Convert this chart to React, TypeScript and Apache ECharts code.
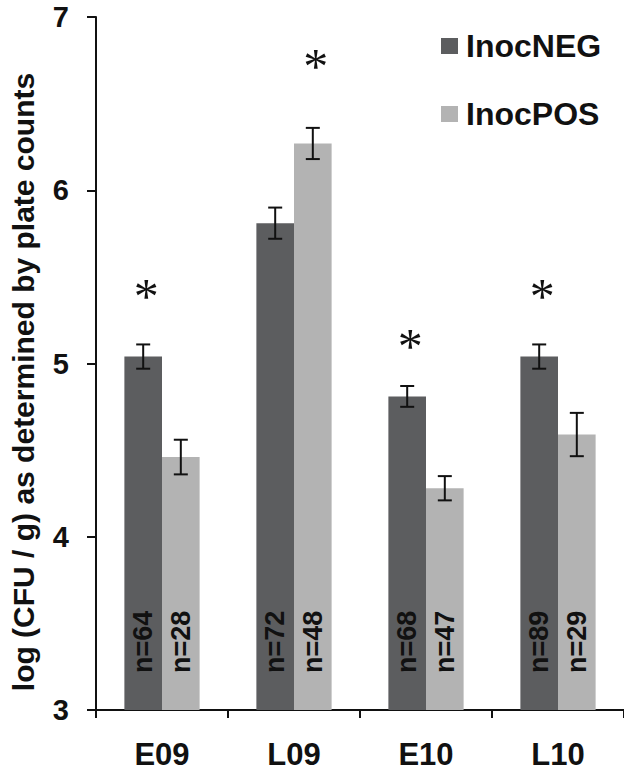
import React, { useEffect, useRef } from "react";
import * as echarts from "echarts";

const categories = ["E09", "L09", "E10", "L10"];
const seriesNames = ["InocNEG", "InocPOS"];
const negValues = [5.04, 5.81, 4.81, 5.04];
const posValues = [4.46, 6.27, 4.28, 4.59];
const negErr = [0.07, 0.09, 0.06, 0.07];
const posErr = [0.1, 0.09, 0.07, 0.125];
const negN = [64, 72, 68, 89];
const posN = [28, 48, 47, 29];
// significance markers: which series (0 = NEG, 1 = POS) and the level where the asterisk sits
const sigSeriesIndex = [0, 1, 0, 0];
const sigLevel = [5.39, 6.72, 5.1, 5.39];
const yTicks = [3, 4, 5, 6, 7];

const COLORS = ["#5c5d5f", "#b3b3b3"];
const FONT = "Liberation Sans, Arial, sans-serif";

export default function App() {
  const ref = useRef<HTMLDivElement>(null);
  useEffect(() => {
    document.body.style.margin = "0";
    if (!ref.current) return;
    const chart = echarts.init(ref.current, undefined, { renderer: "svg" });
    const GAP = 0.43;

    const errData: any[] = [];
    negValues.forEach((v, i) => errData.push([i, v, negErr[i], 0]));
    posValues.forEach((v, i) => errData.push([i, v, posErr[i], 1]));

    const sigData = sigLevel.map((v, i) => [i, v, sigSeriesIndex[i]]);

    const barOffset = (api: any, s: number) => {
      const catW = api.size([1, 0])[0];
      const bw = (catW * (1 - GAP)) / 2;
      return s === 0 ? -bw / 2 : bw / 2;
    };

    const barLabel = (counts: number[]) => ({
      show: true,
      position: "insideBottom",
      rotate: 90,
      align: "left",
      verticalAlign: "middle",
      distance: 37,
      formatter: (p: any) => "n=" + counts[p.dataIndex],
      fontSize: 27,
      fontWeight: "bold",
      color: "#111",
      fontFamily: FONT,
    });

    const option: any = {
      animation: false,
      backgroundColor: "#ffffff",
      textStyle: { fontFamily: FONT },
      grid: { left: 96, right: 0, top: 17, bottom: 64, containLabel: false },
      legend: {
        data: seriesNames,
        orient: "vertical",
        left: 436,
        top: 25,
        itemWidth: 17,
        itemHeight: 16,
        itemGap: 36,
        icon: "rect",
        textStyle: { fontFamily: FONT, fontSize: 32, fontWeight: "bold", color: "#111", lineHeight: 31, padding: [0, 0, 0, 3] },
      },
      xAxis: {
        type: "category",
        data: categories,
        axisLine: { lineStyle: { color: "#111", width: 2 } },
        axisTick: { show: true, length: 8, lineStyle: { color: "#111", width: 2 } },
        axisLabel: { margin: 29, fontSize: 31, fontWeight: "bold", color: "#111", fontFamily: FONT },
      },
      yAxis: {
        type: "value",
        min: yTicks[0],
        max: yTicks[yTicks.length - 1],
        interval: 1,
        splitLine: { show: false },
        axisLine: { show: true, lineStyle: { color: "#111", width: 2 } },
        axisTick: { show: true, length: 9, lineStyle: { color: "#111", width: 2 } },
        axisLabel: { margin: 27, fontSize: 29, fontWeight: "bold", color: "#111", fontFamily: FONT },
      },
      graphic: [
        {
          type: "text",
          x: 23,
          y: 382,
          rotation: Math.PI / 2,
          style: {
            text: "log (CFU / g) as determined by plate counts",
            fontSize: 30,
            fontWeight: "bold",
            fontFamily: FONT,
            fill: "#111",
            textAlign: "center",
            textVerticalAlign: "middle",
          },
        },
      ],
      series: [
        {
          name: seriesNames[0],
          type: "bar",
          data: negValues,
          barGap: "0%",
          barCategoryGap: GAP * 100 + "%",
          itemStyle: { color: COLORS[0] },
          label: barLabel(negN),
        },
        {
          name: seriesNames[1],
          type: "bar",
          data: posValues,
          barGap: "0%",
          barCategoryGap: GAP * 100 + "%",
          itemStyle: { color: COLORS[1] },
          label: barLabel(posN),
        },
        {
          type: "custom",
          name: "err",
          data: errData,
          z: 10,
          renderItem: (params: any, api: any) => {
            const i = api.value(0);
            const v = api.value(1);
            const e = api.value(2);
            const s = api.value(3);
            const off = barOffset(api, s);
            const top = api.coord([i, v + e]);
            const bot = api.coord([i, v - e]);
            const x = top[0] + off;
            const cap = 7;
            const style = { stroke: "#111", lineWidth: 2 };
            return {
              type: "group",
              children: [
                { type: "line", shape: { x1: x, y1: top[1], x2: x, y2: bot[1] }, style },
                { type: "line", shape: { x1: x - cap, y1: top[1], x2: x + cap, y2: top[1] }, style },
                { type: "line", shape: { x1: x - cap, y1: bot[1], x2: x + cap, y2: bot[1] }, style },
              ],
            };
          },
        },
        {
          type: "custom",
          name: "sig",
          data: sigData,
          z: 10,
          renderItem: (params: any, api: any) => {
            const i = api.value(0);
            const v = api.value(1);
            const s = api.value(2);
            const off = barOffset(api, s);
            const p = api.coord([i, v]);
            return {
              type: "text",
              x: p[0] + off + 3,
              y: p[1],
              style: {
                text: "*",
                fontSize: 50,
                fontFamily: "Liberation Serif, Times New Roman, serif",
                fill: "#111",
                textAlign: "center",
                textVerticalAlign: "middle",
              },
            };
          },
        },
      ],
    };
    chart.setOption(option);
    return () => chart.dispose();
  }, []);
  return <div ref={ref} style={{ width: 624, height: 774 }} />;
}
